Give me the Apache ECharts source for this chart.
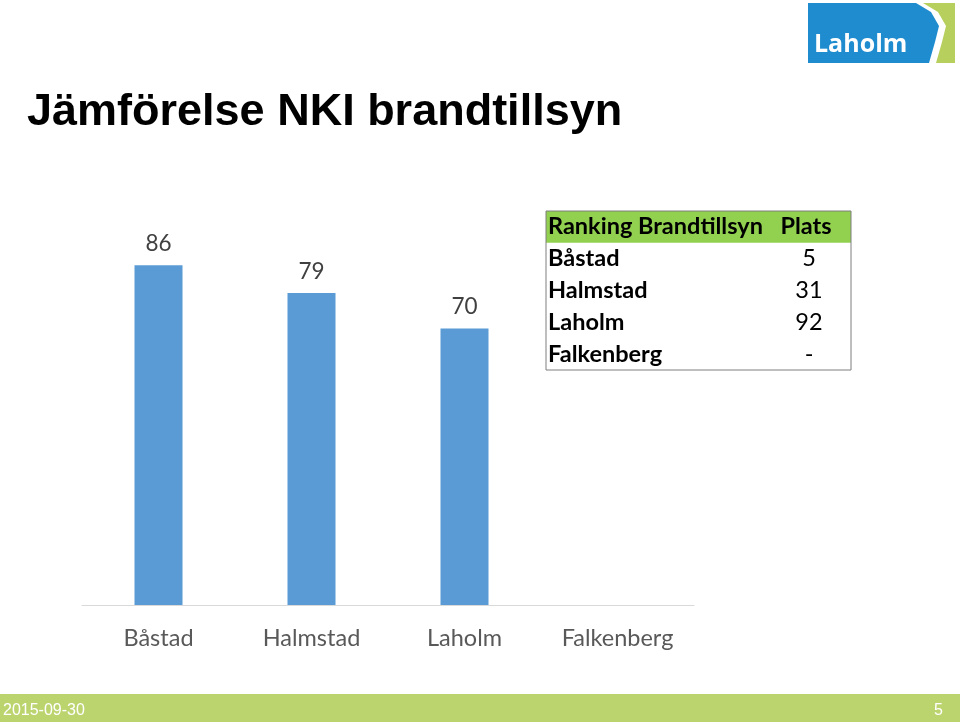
<!DOCTYPE html>
<html><head><meta charset="utf-8">
<script src="https://cdn.jsdelivr.net/npm/echarts@6/dist/echarts.min.js"></script>
<style>html,body{margin:0;padding:0;background:#fff}#c{width:960px;height:726px}</style>
</head><body><div id="c"></div>
<script>
var categories = ['Båstad', 'Halmstad', 'Laholm', 'Falkenberg'];
var values = [86, 79, 70, null];
var tableHeader = ['Ranking Brandtillsyn', 'Plats'];
var tableCities = ['Båstad', 'Halmstad', 'Laholm', 'Falkenberg'];
var tablePlats = ['5', '31', '92', '-'];
var titleText = 'Jämförelse NKI brandtillsyn';
var footerDate = '2015-09-30';
var footerPage = '5';

var chart = echarts.init(document.getElementById('c'), null, {renderer: 'canvas'});
var font = 'Lato, "Open Sans", sans-serif';

var graphics = [];
// title
graphics.push({type: 'text', x: 27, y: 113, style: {text: titleText, font: 'bold 45px "Liberation Sans", Arial, sans-serif', fill: '#000', textVerticalAlign: 'middle'}});
// table
var tx = 546, ty = 211, tw = 305, rh = 31.8;
graphics.push({type: 'rect', shape: {x: tx, y: ty, width: tw, height: rh}, style: {fill: '#92D050'}});
graphics.push({type: 'rect', shape: {x: tx, y: ty, width: tw, height: rh * 5}, style: {fill: 'none', stroke: '#7f7f7f', lineWidth: 1}});
graphics.push({type: 'text', x: tx + 2, y: ty + rh / 2, style: {text: tableHeader[0], font: 'bold 23.5px ' + font, fill: '#000', textVerticalAlign: 'middle'}});
graphics.push({type: 'text', x: 806, y: ty + rh / 2, style: {text: tableHeader[1], font: 'bold 23.5px ' + font, fill: '#000', textAlign: 'center', textVerticalAlign: 'middle'}});
for (var i = 0; i < tableCities.length; i++) {
  var cy = ty + rh * (i + 1) + rh / 2;
  graphics.push({type: 'text', x: tx + 2, y: cy, style: {text: tableCities[i], font: 'bold 23.5px ' + font, fill: '#000', textVerticalAlign: 'middle'}});
  graphics.push({type: 'text', x: 809, y: cy, style: {text: tablePlats[i], font: '23.5px ' + font, fill: '#000', textAlign: 'center', textVerticalAlign: 'middle'}});
}
// logo
graphics.push({type: 'rect', shape: {x: 808, y: 3, width: 147, height: 60}, style: {fill: '#B7CF5C'}});
graphics.push({type: 'polygon', shape: {points: [[808,3],[923,3],[938,12],[946,26],[942,42],[936,63],[808,63]]}, style: {fill: '#fff'}});
graphics.push({type: 'polygon', shape: {points: [[808,3],[916,3],[931,12],[939,26],[935,42],[929,63],[808,63]]}, style: {fill: '#1F8CCF'}});
graphics.push({type: 'text', x: 814, y: 45, style: {text: 'Laholm', font: 'bold 25px "Open Sans", sans-serif', fill: '#fff', textVerticalAlign: 'middle'}});
// footer
graphics.push({type: 'rect', shape: {x: 0, y: 694, width: 960, height: 28}, style: {fill: '#BCD46E'}});
graphics.push({type: 'text', x: 3, y: 711, style: {text: footerDate, font: '16px "Liberation Sans", Arial, sans-serif', fill: '#fff', textVerticalAlign: 'middle'}});
graphics.push({type: 'text', x: 943, y: 711, style: {text: footerPage, font: '16px "Liberation Sans", Arial, sans-serif', fill: '#fff', textAlign: 'right', textVerticalAlign: 'middle'}});

chart.setOption({
  animation: false,
  grid: {left: 82, right: 266, top: 210, bottom: 121, containLabel: false},
  xAxis: {
    type: 'category', data: categories,
    axisLine: {lineStyle: {color: '#d9d9d9', width: 1}},
    axisTick: {show: false},
    axisLabel: {color: '#595959', fontSize: 23.5, fontFamily: font, margin: 21}
  },
  yAxis: {type: 'value', min: 0, max: 100, show: false, splitLine: {show: false}},
  series: [{
    type: 'bar', data: values, barWidth: 48,
    itemStyle: {color: '#5B9BD5'},
    label: {show: true, position: 'top', distance: 10, color: '#404040', fontSize: 22.5, fontFamily: font}
  }],
  graphic: graphics
});
</script></body></html>
